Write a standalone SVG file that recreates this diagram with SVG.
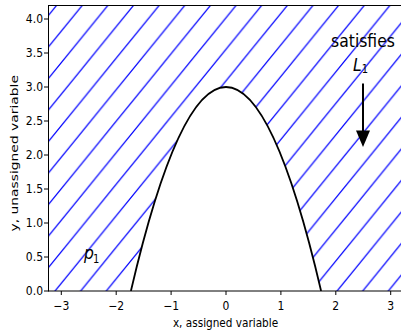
<svg xmlns="http://www.w3.org/2000/svg" width="401" height="336" viewBox="0 0 401 336">
<defs>
<pattern id="hatch" patternUnits="userSpaceOnUse" x="9.7" y="0" width="25.64" height="31.52">
<path d="M-25.64,31.52 L25.64,-31.52 M0,31.52 L25.64,0 M0,63.04 L51.28,0" stroke="#0000ff" stroke-width="1.2" fill="none"/>
</pattern>
<clipPath id="axclip"><rect x="48" y="5" width="360" height="286"/></clipPath>
<style>
.tick{stroke:#000;stroke-width:1}
.tl{font-family:"DejaVu Sans",sans-serif;font-size:10.8px;fill:#000}
.lab{font-family:"DejaVu Sans",sans-serif;font-size:10.5px;fill:#000}
.ann{font-family:"DejaVu Sans",sans-serif;font-size:15.6px;fill:#000}
.math{font-family:"DejaVu Sans",sans-serif;font-style:italic;font-size:15.6px;fill:#000}
.sub{font-family:"DejaVu Sans",sans-serif;font-size:10px;fill:#000}
</style>
</defs>
<rect width="401" height="336" fill="#fff"/>
<g id="hatched-region" clip-path="url(#axclip)">
<path d="M48,5 H410 V291 H48 Z M130.9,291 Q226,-117 321.1,291 Z" fill="url(#hatch)" fill-rule="evenodd"/>
</g>
<g id="curve" clip-path="url(#axclip)">
<path d="M130.9,291 Q226,-117 321.1,291" fill="none" stroke="#000" stroke-width="1.8"/>
</g>
<g id="spines" fill="none" stroke="#000" stroke-width="1">
<line x1="48.5" y1="5" x2="48.5" y2="291.5"/>
<line x1="48" y1="291" x2="401" y2="291"/>
<line x1="48" y1="5.5" x2="401" y2="5.5"/>
</g>
<g id="xticks">
<g class="tick">
<line x1="61.3" y1="291" x2="61.3" y2="295"/>
<line x1="116.2" y1="291" x2="116.2" y2="295"/>
<line x1="171.1" y1="291" x2="171.1" y2="295"/>
<line x1="226" y1="291" x2="226" y2="295"/>
<line x1="280.9" y1="291" x2="280.9" y2="295"/>
<line x1="335.8" y1="291" x2="335.8" y2="295"/>
<line x1="390.7" y1="291" x2="390.7" y2="295"/>
</g>
<g class="tl" text-anchor="middle">
<text transform="translate(61.3,310) scale(1,1.12)">−3</text>
<text transform="translate(116.2,310) scale(1,1.12)">−2</text>
<text transform="translate(171.1,310) scale(1,1.12)">−1</text>
<text transform="translate(226,310) scale(1,1.12)">0</text>
<text transform="translate(280.9,310) scale(1,1.12)">1</text>
<text transform="translate(335.8,310) scale(1,1.12)">2</text>
<text transform="translate(390.7,310) scale(1,1.12)">3</text>
</g>
</g>
<g id="yticks">
<g class="tick">
<line x1="44" y1="291" x2="48" y2="291"/>
<line x1="44" y1="257" x2="48" y2="257"/>
<line x1="44" y1="223" x2="48" y2="223"/>
<line x1="44" y1="189" x2="48" y2="189"/>
<line x1="44" y1="155" x2="48" y2="155"/>
<line x1="44" y1="121" x2="48" y2="121"/>
<line x1="44" y1="87" x2="48" y2="87"/>
<line x1="44" y1="53" x2="48" y2="53"/>
<line x1="44" y1="19" x2="48" y2="19"/>
</g>
<g class="tl" text-anchor="end">
<text transform="translate(43,295.4) scale(1,1.12)">0.0</text>
<text transform="translate(43,261.4) scale(1,1.12)">0.5</text>
<text transform="translate(43,227.4) scale(1,1.12)">1.0</text>
<text transform="translate(43,193.4) scale(1,1.12)">1.5</text>
<text transform="translate(43,159.4) scale(1,1.12)">2.0</text>
<text transform="translate(43,125.4) scale(1,1.12)">2.5</text>
<text transform="translate(43,91.4) scale(1,1.12)">3.0</text>
<text transform="translate(43,57.4) scale(1,1.12)">3.5</text>
<text transform="translate(43,23.4) scale(1,1.12)">4.0</text>
</g>
</g>
<g id="axis-labels">
<text class="lab" text-anchor="middle" transform="translate(225.5,327.3) scale(1,1.13)">x, assigned variable</text>
<text class="lab" text-anchor="middle" transform="translate(18.3,153.3) scale(1,1.26) rotate(-90)" style="font-size:11px">y, unassigned variable</text>
</g>
<g id="label-p1">
<text class="math" transform="translate(84,259) scale(1,1.15)">p</text>
<text class="sub" transform="translate(93,263) scale(1,1.15)">1</text>
</g>
<g id="annotation">
<text class="ann" text-anchor="middle" transform="translate(363,46.7) scale(1,1.15)">satisfies</text>
<text class="math" transform="translate(353,70.7) scale(1,1.15)">L</text>
<text class="sub" transform="translate(361.7,72.7) scale(1,1.15)">1</text>
<line x1="363" y1="83.5" x2="363" y2="131" stroke="#000" stroke-width="2"/>
<polygon points="356,130.5 370,130.5 363,147" fill="#000"/>
</g>
</svg>
